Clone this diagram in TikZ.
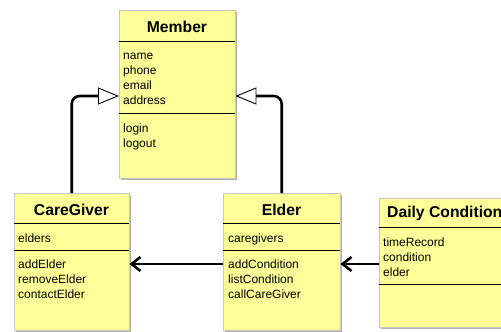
\documentclass[tikz,border=0pt]{standalone}
\usepackage{fontspec}
\setmainfont{Liberation Sans}
\usetikzlibrary{arrows.meta,shadows}
\definecolor{umlfill}{RGB}{255,255,153}
\begin{document}
\begin{tikzpicture}[x=1pt,y=-1pt,
  box/.style={draw=gray!45, line width=0.4pt, fill=umlfill, inner sep=0pt, anchor=north west,
    drop shadow={shadow xshift=1.5pt, shadow yshift=-1.5pt, fill=black!30, opacity=1}},
  sep/.style={line width=0.9pt, black},
  classtitle/.style={font=\fontsize{15.7}{18}\selectfont\bfseries, inner sep=0pt, anchor=base},
  comp/.style={font=\fontsize{12}{15.2}\selectfont, inner sep=0pt, anchor=north west, align=left},
  gen/.style={line width=2.6pt, rounded corners=8pt,
    -{Triangle[open, length=21pt, width=17pt, line width=0.9pt]}},
  assoc/.style={line width=2.6pt, -{Straight Barb[length=9pt, width=14pt]}}]
\useasboundingbox (0,0) rectangle (501,332);
\clip (0,0) rectangle (501,332);
% boxes
\node[box, minimum width=116pt, minimum height=168pt] (member) at (119,10) {};
\node[box, minimum width=115pt, minimum height=137pt] (caregiver) at (14,193) {};
\node[box, minimum width=117pt, minimum height=137pt] (elder) at (223,193) {};
\node[box, minimum width=131pt, minimum height=129pt] (daily) at (379,198) {};
% separators
\draw[sep] (member.west |- 0,41) -- (member.east |- 0,41);
\draw[sep] (member.west |- 0,113) -- (member.east |- 0,113);
\draw[sep] (caregiver.west |- 0,223) -- (caregiver.east |- 0,223);
\draw[sep] (caregiver.west |- 0,250) -- (caregiver.east |- 0,250);
\draw[sep] (elder.west |- 0,223) -- (elder.east |- 0,223);
\draw[sep] (elder.west |- 0,250) -- (elder.east |- 0,250);
\draw[sep] (daily.west |- 0,227) -- (daily.east |- 0,227);
\draw[sep] (daily.west |- 0,284) -- (daily.east |- 0,284);
% titles
\node[classtitle] (memberT) at (177,32) {Member};
\node[classtitle] (caregiverT) at (71.5,215) {CareGiver};
\node[classtitle] (elderT) at (281.5,215) {Elder};
\node[classtitle, anchor=base west] (dailyT) at (387,217) {Daily Condition};
% compartments
\node[comp] (memberA) at (123,48.3) {\strut name\\phone\\email\\address};
\node[comp] (memberO) at (123,121.3) {\strut login\\logout};
\node[comp] (caregiverA) at (18,231.3) {\strut elders};
\node[comp] (caregiverO) at (18,257.3) {\strut addElder\\removeElder\\contactElder};
\node[comp] (elderA) at (228,231.3) {\strut caregivers};
\node[comp] (elderO) at (228,257.3) {\strut addCondition\\listCondition\\callCareGiver};
\node[comp] (dailyA) at (383,235.3) {\strut timeRecord\\condition\\elder};
% connectors
\draw[gen] (caregiver.north) |- (member.west |- 0,96);
\draw[gen] (elder.north) |- (member.east |- 0,96);
\draw[assoc] (elder.west |- 0,264) -- (caregiver.east |- 0,264);
\draw[assoc] (daily.west |- 0,264) -- (elder.east |- 0,264);
\end{tikzpicture}
\end{document}
